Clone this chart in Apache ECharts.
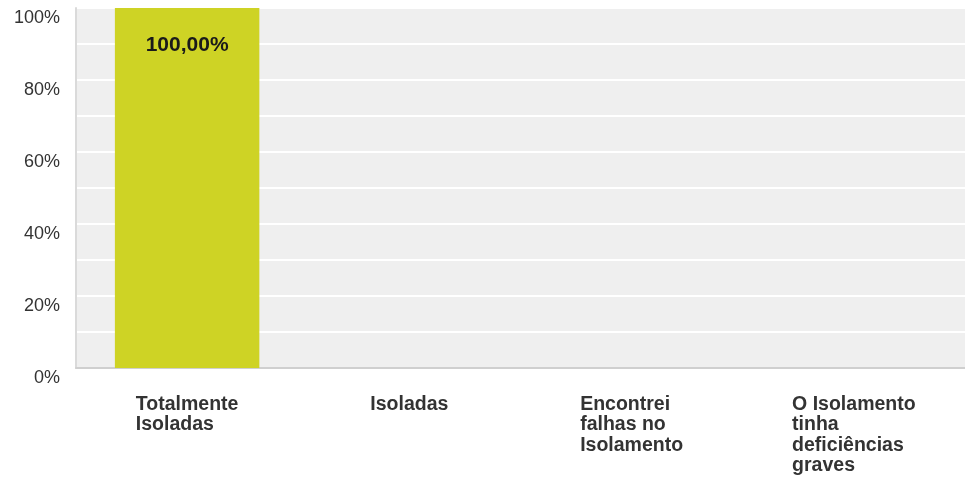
<!DOCTYPE html>
<html><head><meta charset="utf-8">
<script src="https://cdn.jsdelivr.net/npm/echarts@6/dist/echarts.min.js"></script>
<style>html,body{margin:0;padding:0;background:#fff}#c{width:965px;height:477px}</style>
</head><body><div id="c"></div>
<script>
const categories = ["Totalmente\nIsoladas", "Isoladas", "Encontrei\nfalhas no\nIsolamento", "O Isolamento\ntinha\ndeficiências\ngraves"];
const values = [100, 0, 0, 0];
const valueLabels = ["100,00%", "", "", ""];
const tickLabels = {0: "0%", 20: "20%", 40: "40%", 60: "60%", 80: "80%", 100: "100%"};

const FONT = 'Arial, "Liberation Sans", sans-serif';
const chart = echarts.init(document.getElementById('c'), null, {renderer: 'canvas'});
chart.setOption({
  animation: false,
  grid: {left: 76, right: 0, top: 8, bottom: 109, show: true, backgroundColor: '#efefef', borderWidth: 0},
  xAxis: {
    type: 'category', data: categories,
    axisLine: {show: true, lineStyle: {color: '#cfcfcf', width: 2}},
    axisTick: {show: false},
    axisLabel: {
      margin: 26, interval: 0,
      formatter: v => '{a|' + v.split('\n').join('}\n{a|') + '}',
      rich: {a: {align: 'left', fontFamily: FONT, fontWeight: 'bold', fontSize: 19.5, color: '#333', lineHeight: 20.5}}
    }
  },
  yAxis: {
    type: 'value', min: 0, max: 100, interval: 10,
    axisLine: {show: true, lineStyle: {color: '#dadada', width: 2}},
    axisTick: {show: false},
    splitLine: {show: true, lineStyle: {color: '#ffffff', width: 2}},
    axisLabel: {
      formatter: v => tickLabels[v] || '',
      margin: 16, verticalAlign: 'top', lineHeight: 21,
      fontFamily: FONT, fontSize: 18, color: '#333'
    }
  },
  series: [{
    type: 'bar', data: values, barWidth: '65%',
    itemStyle: {color: '#ced325'},
    label: {
      show: true, position: 'insideTop', distance: 27,
      formatter: p => valueLabels[p.dataIndex],
      fontFamily: FONT, fontWeight: 'bold', fontSize: 21, color: '#1a1a1a'
    }
  }]
});
</script></body></html>
